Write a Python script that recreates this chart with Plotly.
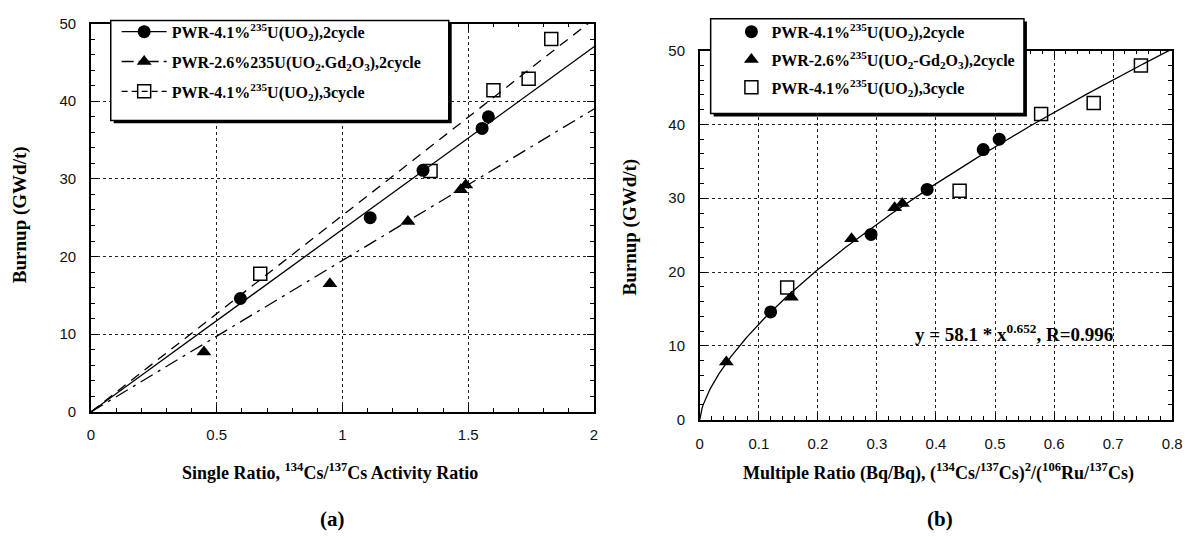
import numpy as np
import plotly.graph_objects as go

# ---------------- data ----------------
# Panel (a): single ratio 134Cs/137Cs vs burnup
a_2cyc_x = [0.594, 1.11, 1.32, 1.555, 1.58]
a_2cyc_y = [14.6, 25.0, 31.1, 36.5, 38.0]
a_gd_x = [0.449, 0.95, 1.26, 1.47, 1.49]
a_gd_y = [7.7, 16.5, 24.5, 28.6, 29.2]
a_3cyc_x = [0.673, 1.35, 1.60, 1.74, 1.83]
a_3cyc_y = [17.8, 31.0, 41.4, 42.9, 48.0]
# linear fits through origin (slope, GWd/t per unit ratio)
a_slope_2cyc = 23.5
a_slope_gd = 19.5
a_slope_3cyc = 25.3
a_fit_x = [0.0, 2.0]

# Panel (b): multiple ratio vs burnup
b_2cyc_x = [0.12, 0.29, 0.385, 0.48, 0.507]
b_2cyc_y = [14.6, 25.1, 31.2, 36.6, 38.0]
b_gd_x = [0.045, 0.155, 0.257, 0.33, 0.343]
b_gd_y = [7.8, 16.6, 24.5, 28.7, 29.3]
b_3cyc_x = [0.148, 0.44, 0.578, 0.667, 0.747]
b_3cyc_y = [17.9, 31.0, 41.4, 42.9, 48.0]
# power fit y = A * x^B
b_fit_A = 58.1
b_fit_B = 0.652

names_a = [
    "PWR-4.1%<sup>235</sup>U(UO<sub>2</sub>),2cycle",
    "PWR-2.6%235U(UO<sub>2</sub>.Gd<sub>2</sub>O<sub>3</sub>),2cycle",
    "PWR-4.1%<sup>235</sup>U(UO<sub>2</sub>),3cycle",
]
names_b = [
    "PWR-4.1%<sup>235</sup>U(UO<sub>2</sub>),2cycle",
    "PWR-2.6%<sup>235</sup>U(UO<sub>2</sub>-Gd<sub>2</sub>O<sub>3</sub>),2cycle",
    "PWR-4.1%<sup>235</sup>U(UO<sub>2</sub>),3cycle",
]

W, H = 1200, 540
SERIF = "Liberation Serif"
SANS = "Liberation Sans"

def px(x):
    return x / W

def py(y):
    return 1 - y / H

fig = go.Figure()

circle = dict(symbol="circle", size=13, color="black")
tri = dict(symbol="triangle-up", size=13, color="black")
sq = dict(symbol="square-open", size=13, color="black", line=dict(width=1.5, color="black"))

GD_DASH = "14px,6px,3px,6px"
C3_DASH = "10px,7px"

# ---- panel (a) ----
fx = np.array(a_fit_x)
fig.add_trace(go.Scatter(x=fx, y=a_slope_2cyc * fx, mode="lines", line=dict(color="black", width=1.3),
                         showlegend=False, xaxis="x", yaxis="y"))
fig.add_trace(go.Scatter(x=fx, y=a_slope_gd * fx, mode="lines", line=dict(color="black", width=1.3, dash=GD_DASH),
                         showlegend=False, xaxis="x", yaxis="y"))
fig.add_trace(go.Scatter(x=fx, y=a_slope_3cyc * fx, mode="lines", line=dict(color="black", width=1.3, dash=C3_DASH),
                         showlegend=False, xaxis="x", yaxis="y"))
fig.add_trace(go.Scatter(x=a_2cyc_x, y=a_2cyc_y, mode="markers", marker=circle, showlegend=False, xaxis="x", yaxis="y"))
fig.add_trace(go.Scatter(x=a_gd_x, y=a_gd_y, mode="markers", marker=tri, showlegend=False, xaxis="x", yaxis="y"))
fig.add_trace(go.Scatter(x=a_3cyc_x, y=a_3cyc_y, mode="markers", marker=sq, showlegend=False, xaxis="x", yaxis="y"))
# legend samples (a)
for i, (nm, mk, dash) in enumerate(zip(names_a, [circle, tri, sq], ["solid", "12px,5px,3px,5px", "6px,4px"])):
    fig.add_trace(go.Scatter(x=[None], y=[None], mode="lines+markers", name=nm, marker=mk,
                             line=dict(color="black", width=1.3, dash=dash),
                             legend="legend", legendgroup=f"a{i}", xaxis="x", yaxis="y"))

# ---- panel (b) ----
bx = np.linspace(0, 0.8, 400)
fig.add_trace(go.Scatter(x=bx, y=b_fit_A * bx ** b_fit_B, mode="lines", line=dict(color="black", width=1.3),
                         showlegend=False, xaxis="x2", yaxis="y2"))
fig.add_trace(go.Scatter(x=b_2cyc_x, y=b_2cyc_y, mode="markers", marker=circle, showlegend=False, xaxis="x2", yaxis="y2"))
fig.add_trace(go.Scatter(x=b_gd_x, y=b_gd_y, mode="markers", marker=tri, showlegend=False, xaxis="x2", yaxis="y2"))
fig.add_trace(go.Scatter(x=b_3cyc_x, y=b_3cyc_y, mode="markers", marker=sq, showlegend=False, xaxis="x2", yaxis="y2"))
for i, (nm, mk) in enumerate(zip(names_b, [circle, tri, sq])):
    fig.add_trace(go.Scatter(x=[None], y=[None], mode="markers", name=nm, marker=mk,
                             legend="legend2", legendgroup=f"b{i}", xaxis="x2", yaxis="y2"))

def axis(rng, dtick, mdtick, domain, anchor, standoff):
    return dict(range=rng, dtick=dtick, domain=domain, anchor=anchor,
                showline=True, linecolor="black", linewidth=1.6, mirror="ticks",
                ticks="inside", ticklen=7, tickwidth=1.2, tickcolor="black",
                showgrid=True, gridcolor="#222", griddash="dot", gridwidth=1.3,
                zeroline=False, ticklabelstandoff=standoff,
                tickfont=dict(family=SANS, size=15, color="#111"),
                minor=dict(dtick=mdtick, ticks="inside", ticklen=4, tickwidth=1, tickcolor="black", showgrid=False))

legend_font = dict(family=SERIF, size=16, color="black", weight="bold")

fig.update_layout(
    width=W, height=H, margin=dict(l=0, r=0, t=0, b=0),
    paper_bgcolor="white", plot_bgcolor="white",
    xaxis=axis([0, 2], 0.5, 0.1, [px(88), px(597)], "y", 8),
    yaxis=axis([0, 50], 10, 2, [py(416), py(15)], "x", 10),
    xaxis2=axis([0, 0.8], 0.1, 0.02, [px(704), px(1182)], "y2", 10),
    yaxis2=axis([0, 50], 10, 2, [py(424), py(43)], "x2", 10),
    legend=dict(x=px(114), xanchor="left", y=py(6), yanchor="top", bgcolor="rgba(0,0,0,0)",
                borderwidth=0, font=legend_font, itemwidth=45, tracegroupgap=6),
    legend2=dict(x=px(736), xanchor="left", y=py(6), yanchor="top", bgcolor="rgba(0,0,0,0)",
                 borderwidth=0, font=legend_font, itemwidth=30, tracegroupgap=4),
    showlegend=True,
)

# legend boxes with shadow
shapes = []
for (x0, y0, x1, y1) in [(108, 12, 450, 115), (715, 10, 1032, 108)]:
    shapes.append(dict(type="rect", xref="paper", yref="paper", x0=px(x0 + 3), x1=px(x1 + 3),
                       y0=py(y1 + 3), y1=py(y0 + 3), fillcolor="black", line=dict(width=0), layer="above"))
    shapes.append(dict(type="rect", xref="paper", yref="paper", x0=px(x0), x1=px(x1),
                       y0=py(y1), y1=py(y0), fillcolor="white", line=dict(color="black", width=1.5), layer="above"))
fig.update_layout(shapes=shapes)

def bold(size):
    return dict(family=SERIF, size=size, color="black", weight="bold")

ann = [
    dict(text="Burnup (GWd/t)", x=px(17), y=py(212), textangle=-90, font=bold(19)),
    dict(text="Burnup (GWd/t)", x=px(633), y=py(225), textangle=-90, font=bold(19)),
    dict(text="Single Ratio, <sup>134</sup>Cs/<sup>137</sup>Cs Activity Ratio", x=px(330), y=py(478), font=bold(18)),
    dict(text="Multiple Ratio (Bq/Bq), (<sup>134</sup>Cs/<sup>137</sup>Cs)<sup>2</sup>/(<sup>106</sup>Ru/<sup>137</sup>Cs)",
         x=px(946), y=py(478), font=bold(18)),
    dict(text="y = 58.1 * x<sup>0.652</sup>, R=0.996", x=px(1022), y=py(335), font=bold(19)),
    dict(text="(a)", x=px(332), y=py(527), font=bold(21)),
    dict(text="(b)", x=px(947), y=py(527), font=bold(21)),
]
for a in ann:
    fig.add_annotation(xref="paper", yref="paper", showarrow=False,
                       xanchor="center", yanchor="middle", **a)

fig.write_html("out.html")
